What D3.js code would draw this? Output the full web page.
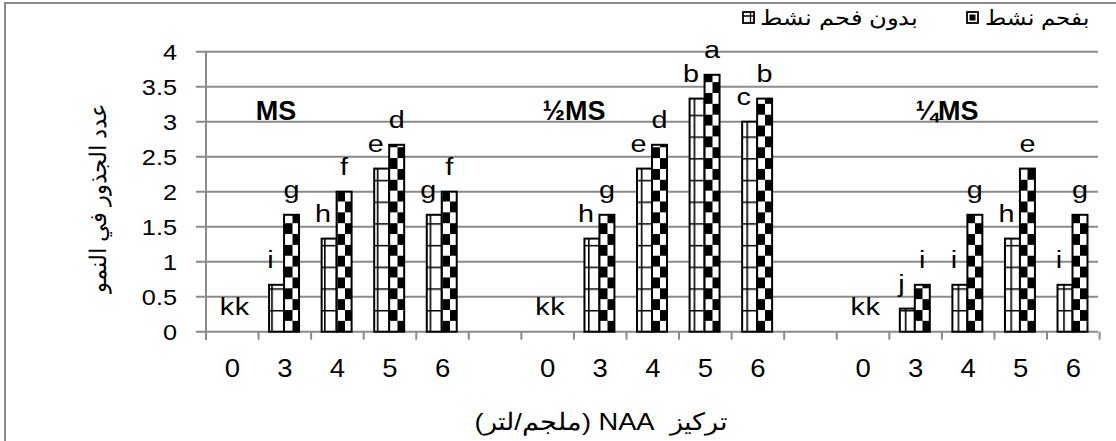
<!DOCTYPE html>
<html>
<head>
<meta charset="utf-8">
<script src="https://cdn.jsdelivr.net/npm/d3@7"></script>
<style>
  body { margin: 0; background: #fff; }
  svg { display: block; }
  text { font-family: "Liberation Sans", Arial, sans-serif; fill: #000; }
</style>
</head>
<body>
<svg id="chart" width="1116" height="441"></svg>
<script>
// NAA concentration (mg/L) per medium; empty slots separate the three media groups
const categories = ["0", "3", "4", "5", "6", "", "0", "3", "4", "5", "6", "", "0", "3", "4", "5", "6"];
const groupNames = ["MS", "½MS", "¼MS"];
const seriesNames = ["بدون فحم نشط", "بفحم نشط"];
// mean number of roots, without / with activated charcoal
const withoutCharcoal = [0, 0.67, 1.33, 2.33, 1.67, null, 0, 1.33, 2.33, 3.33, 3, null, 0, 0.33, 0.67, 1.33, 0.67];
const withCharcoal = [0, 1.67, 2, 2.67, 2, null, 0, 1.67, 2.67, 3.67, 3.33, null, 0, 0.67, 1.67, 2.33, 1.67];
// Duncan letters printed over each bar
const lettersWithout = ["k", "i", "h", "e", "g", null, "k", "h", "e", "b", "c", null, "k", "j", "i", "h", "i"];
const lettersWith = ["k", "g", "f", "d", "f", null, "k", "g", "d", "a", "b", null, "k", "i", "g", "e", "g"];
const yTicks = [0, 0.5, 1, 1.5, 2, 2.5, 3, 3.5, 4];
const yTickLabels = ["0", "0.5", "1", "1.5", "2", "2.5", "3", "3.5", "4"];
const yTitle = "عدد الجذور في النمو";
const xTitle = "تركيز  NAA (ملجم/لتر)";

const svg = d3.select("#chart");
const W = 1116, H = 441;
const plot = { left: 206, right: 1098, top: 51.7, bottom: 331.7 };
const gridColor = "#8a8a8a";

// chart frame
svg.append("path")
  .attr("d", `M5,${H} V3 H${W}`)
  .attr("fill", "none").attr("stroke", gridColor).attr("stroke-width", 2);

const x = d3.scaleBand()
  .domain(d3.range(categories.length))
  .range([plot.left, plot.right])
  .paddingInner(0.43).paddingOuter(0.2);
const step = x.step();
const xs = d3.scaleBand().domain([0, 1]).range([0, x.bandwidth()]);
const y = d3.scaleLinear().domain([0, 4]).range([plot.bottom, plot.top]);

// fill patterns
const defs = svg.append("defs");
const pw = 26.4, ph = 21.7;
const grid = defs.append("pattern").attr("id", "gridFill")
  .attr("patternUnits", "userSpaceOnUse")
  .attr("width", pw).attr("height", ph)
  .attr("x", 324).attr("y", plot.bottom);
grid.append("rect").attr("width", pw).attr("height", ph).attr("fill", "#fff");
grid.append("path").attr("d", `M0,0.8 H${pw} M0.8,0 V${ph}`)
  .attr("stroke", "#000").attr("stroke-width", 1.6);

const check = defs.append("pattern").attr("id", "checkFill")
  .attr("patternUnits", "userSpaceOnUse")
  .attr("width", 15).attr("height", ph)
  .attr("x", 0).attr("y", plot.bottom);
check.append("rect").attr("width", 15).attr("height", ph).attr("fill", "#fff");
check.append("rect").attr("x", 0).attr("y", 0).attr("width", 7.5).attr("height", ph / 2).attr("fill", "#000");
check.append("rect").attr("x", 7.5).attr("y", ph / 2).attr("width", 7.5).attr("height", ph / 2).attr("fill", "#000");

// gridlines + y ticks
svg.append("g").selectAll("line").data(yTicks).join("line")
  .attr("x1", plot.left - 10).attr("x2", plot.right)
  .attr("y1", d => y(d)).attr("y2", d => y(d))
  .attr("stroke", gridColor).attr("stroke-width", 2);

// y axis line
svg.append("line")
  .attr("x1", plot.left).attr("x2", plot.left)
  .attr("y1", plot.top).attr("y2", plot.bottom + 8)
  .attr("stroke", gridColor).attr("stroke-width", 2);

// x tick marks at category boundaries
svg.append("g").selectAll("line").data(d3.range(categories.length + 1)).join("line")
  .attr("x1", i => plot.left + i * step).attr("x2", i => plot.left + i * step)
  .attr("y1", plot.bottom).attr("y2", plot.bottom + 8)
  .attr("stroke", gridColor).attr("stroke-width", 2);

// y tick labels
svg.append("g").selectAll("text").data(yTicks).join("text")
  .attr("transform", d => `translate(177,${y(d) + 8}) scale(1.15,1)`)
  .attr("text-anchor", "end")
  .style("font-size", "22px")
  .text((d, i) => yTickLabels[i]);

// x tick labels
svg.append("g").selectAll("text").data(categories).join("text")
  .attr("transform", (d, i) => `translate(${plot.left + (i + 0.5) * step},377) scale(1.1,1)`)
  .attr("text-anchor", "middle")
  .style("font-size", "25px")
  .text(d => d);

// bars
const series = [
  { values: withoutCharcoal, letters: lettersWithout, fill: "url(#gridFill)", dx: -6 },
  { values: withCharcoal, letters: lettersWith, fill: "url(#checkFill)", dx: 0 }
];
series.forEach((s, si) => {
  const rows = s.values.map((v, i) => ({ i, v, l: s.letters[i] })).filter(d => d.v !== null);
  svg.append("g").selectAll("rect").data(rows.filter(d => d.v > 0)).join("rect")
    .attr("x", d => x(d.i) + xs(si))
    .attr("y", d => y(d.v))
    .attr("width", xs.bandwidth())
    .attr("height", d => y(0) - y(d.v))
    .attr("fill", s.fill)
    .attr("stroke", "#000").attr("stroke-width", 2);
  svg.append("g").selectAll("text").data(rows).join("text")
    .attr("transform", d => {
      const cx = x(d.i) + xs(si) + xs.bandwidth() / 2 + (d.v > 0 ? s.dx : 3);
      return `translate(${cx},${y(d.v) - 17}) scale(1.2,1)`;
    })
    .attr("text-anchor", "middle")
    .style("font-size", "24px")
    .text(d => d.l);
});

// medium names
const groupX = [276, 574, 947];
svg.append("g").selectAll("text").data(groupNames).join("text")
  .attr("x", (d, i) => groupX[i]).attr("y", 120)
  .attr("text-anchor", "middle")
  .style("font-size", "27px").style("font-weight", "bold")
  .text(d => d);

// axis titles
svg.append("text")
  .attr("transform", `translate(106,198) rotate(-90)`)
  .attr("text-anchor", "middle")
  .attr("textLength", 190).attr("lengthAdjust", "spacingAndGlyphs")
  .style("font-size", "23px")
  .text(yTitle);
svg.append("text")
  .attr("transform", `translate(601,430)`)
  .attr("text-anchor", "middle").attr("direction", "rtl")
  .attr("textLength", 253).attr("lengthAdjust", "spacingAndGlyphs")
  .style("font-size", "24px").style("white-space", "pre")
  .text(xTitle);

// legend
const legend = [
  { name: seriesNames[0], iconX: 743, textX: 760, textW: 158, dark: false },
  { name: seriesNames[1], iconX: 967, textX: 985, textW: 105, dark: true }
];
const lg = svg.append("g").selectAll("g").data(legend).join("g");
lg.append("rect")
  .attr("x", d => d.iconX).attr("y", 12).attr("width", 11).attr("height", 11)
  .attr("fill", "#fff").attr("stroke", "#000").attr("stroke-width", 1.8);
lg.filter(d => d.dark).append("rect")
  .attr("x", d => d.iconX + 2.5).attr("y", 14.5).attr("width", 6).attr("height", 6)
  .attr("fill", "#000");
lg.filter(d => !d.dark).append("path")
  .attr("d", d => `M${d.iconX + 7.5},12 V23 M${d.iconX},16 H${d.iconX + 11}`)
  .attr("stroke", "#000").attr("stroke-width", 1.3);
lg.append("text")
  .attr("x", d => d.textX).attr("y", 25)
  .attr("text-anchor", "start")
  .attr("textLength", d => d.textW).attr("lengthAdjust", "spacingAndGlyphs")
  .style("font-size", "21px")
  .text(d => d.name);
</script>
</body>
</html>
